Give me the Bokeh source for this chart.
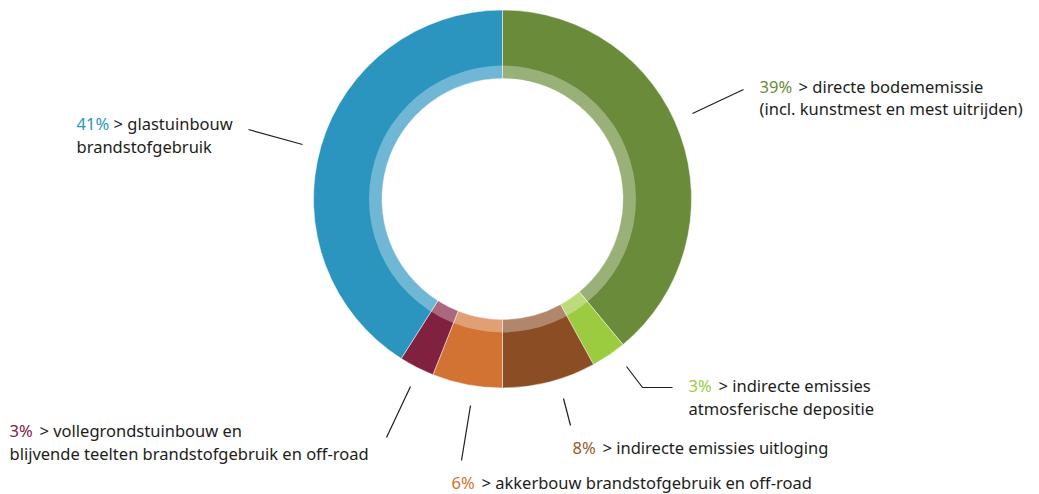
import numpy as np
from bokeh.plotting import figure
from bokeh.models import Range1d, ColumnDataSource
from bokeh.core.properties import value
from bokeh.embed import file_html
from bokeh.resources import INLINE

# ---- data ----
categories = ["directe bodememissie", "indirecte emissies atmosferische depositie",
              "indirecte emissies uitloging", "akkerbouw brandstofgebruik en off-road",
              "vollegrondstuinbouw en blijvende teelten brandstofgebruik en off-road",
              "glastuinbouw brandstofgebruik"]
shares = [39, 3, 8, 6, 3, 41]
pct_labels = ["39%", "3%", "8%", "6%", "3%", "41%"]
line1 = ["> directe bodememissie", "> indirecte emissies", "> indirecte emissies uitloging",
         "> akkerbouw brandstofgebruik en off-road", "> vollegrondstuinbouw en", "> glastuinbouw"]
line2 = ["(incl. kunstmest en mest uitrijden)", "atmosferische depositie", "", "",
         "blijvende teelten brandstofgebruik en off-road", "brandstofgebruik"]
colors = ["#6A8B3A", "#9BCB3F", "#8B4E24", "#D27233", "#80213F", "#2B95C0"]
pct_colors = ["#6A8B3A", "#9BCB3F", "#9A5A2C", "#D27233", "#80213F", "#2B95C0"]

# ---- layout (pixel-like coordinates; y measured from top of window) ----
W, H = 1039, 494
cx, cy_top = 502, 198.5
R_out, R_band, R_in = 189, 133.5, 120.5
TXT_SHIFT = 6  # compensate baseline placement

def Y(py):
    return H - py

lab_x = [759, 688, 572, 451, 9, 76]
rest_x = [798, 718, 602, 481, 39, 113]
lab_y1 = [92, 391, 453, 488, 436, 129]
lab_y2 = [114, 414, None, None, 459, 152]
leaders = [
    ([692, 743], [113, 89]),
    ([626, 642, 672], [366, 387, 387]),
    ([563, 570], [398, 425]),
    ([470, 461], [405, 460]),
    ([410, 386], [386, 437]),
    ([248, 302], [129, 144]),
]

p = figure(width=W, height=H, output_backend="svg", toolbar_location=None,
           x_range=Range1d(0, W), y_range=Range1d(0, H),
           x_axis_location=None, y_axis_location=None, min_border=0)
p.grid.visible = False
p.outline_line_color = None
p.background_fill_color = "white"
p.border_fill_color = "white"

frac = np.array(shares, dtype=float) / sum(shares)
cum = np.concatenate([[0], np.cumsum(frac)])
start = np.pi / 2 - 2 * np.pi * cum[:-1]
end = np.pi / 2 - 2 * np.pi * cum[1:]

src = ColumnDataSource(dict(start=start, end=end, color=colors))
p.annular_wedge(x=cx, y=Y(cy_top), inner_radius=R_in, outer_radius=R_out,
                start_angle="start", end_angle="end", direction="clock",
                fill_color="color", line_color="white", line_alpha=0.6, line_width=0.8,
                source=src)
p.annulus(x=cx, y=Y(cy_top), inner_radius=R_in, outer_radius=R_band,
          fill_color="white", fill_alpha=0.32, line_color=None)

font = value("Noto Sans")
fs = "16.5px"
for i in range(len(shares)):
    xs, ys = leaders[i]
    p.line(xs, [Y(v) for v in ys], line_color="#1d1d1b", line_width=1.2)
    y1 = Y(lab_y1[i] - TXT_SHIFT)
    p.text(x=[lab_x[i]], y=[y1], text=[pct_labels[i]], text_color=pct_colors[i],
           text_font=font, text_font_size=fs, text_baseline="alphabetic")
    p.text(x=[rest_x[i]], y=[y1], text=[line1[i]], text_color="#1d1d1b",
           text_font=font, text_font_size=fs, text_baseline="alphabetic")
    if line2[i]:
        p.text(x=[lab_x[i]], y=[Y(lab_y2[i] - TXT_SHIFT)], text=[line2[i]], text_color="#1d1d1b",
               text_font=font, text_font_size=fs, text_baseline="alphabetic")

open("out.html", "w").write(file_html(p, INLINE))
